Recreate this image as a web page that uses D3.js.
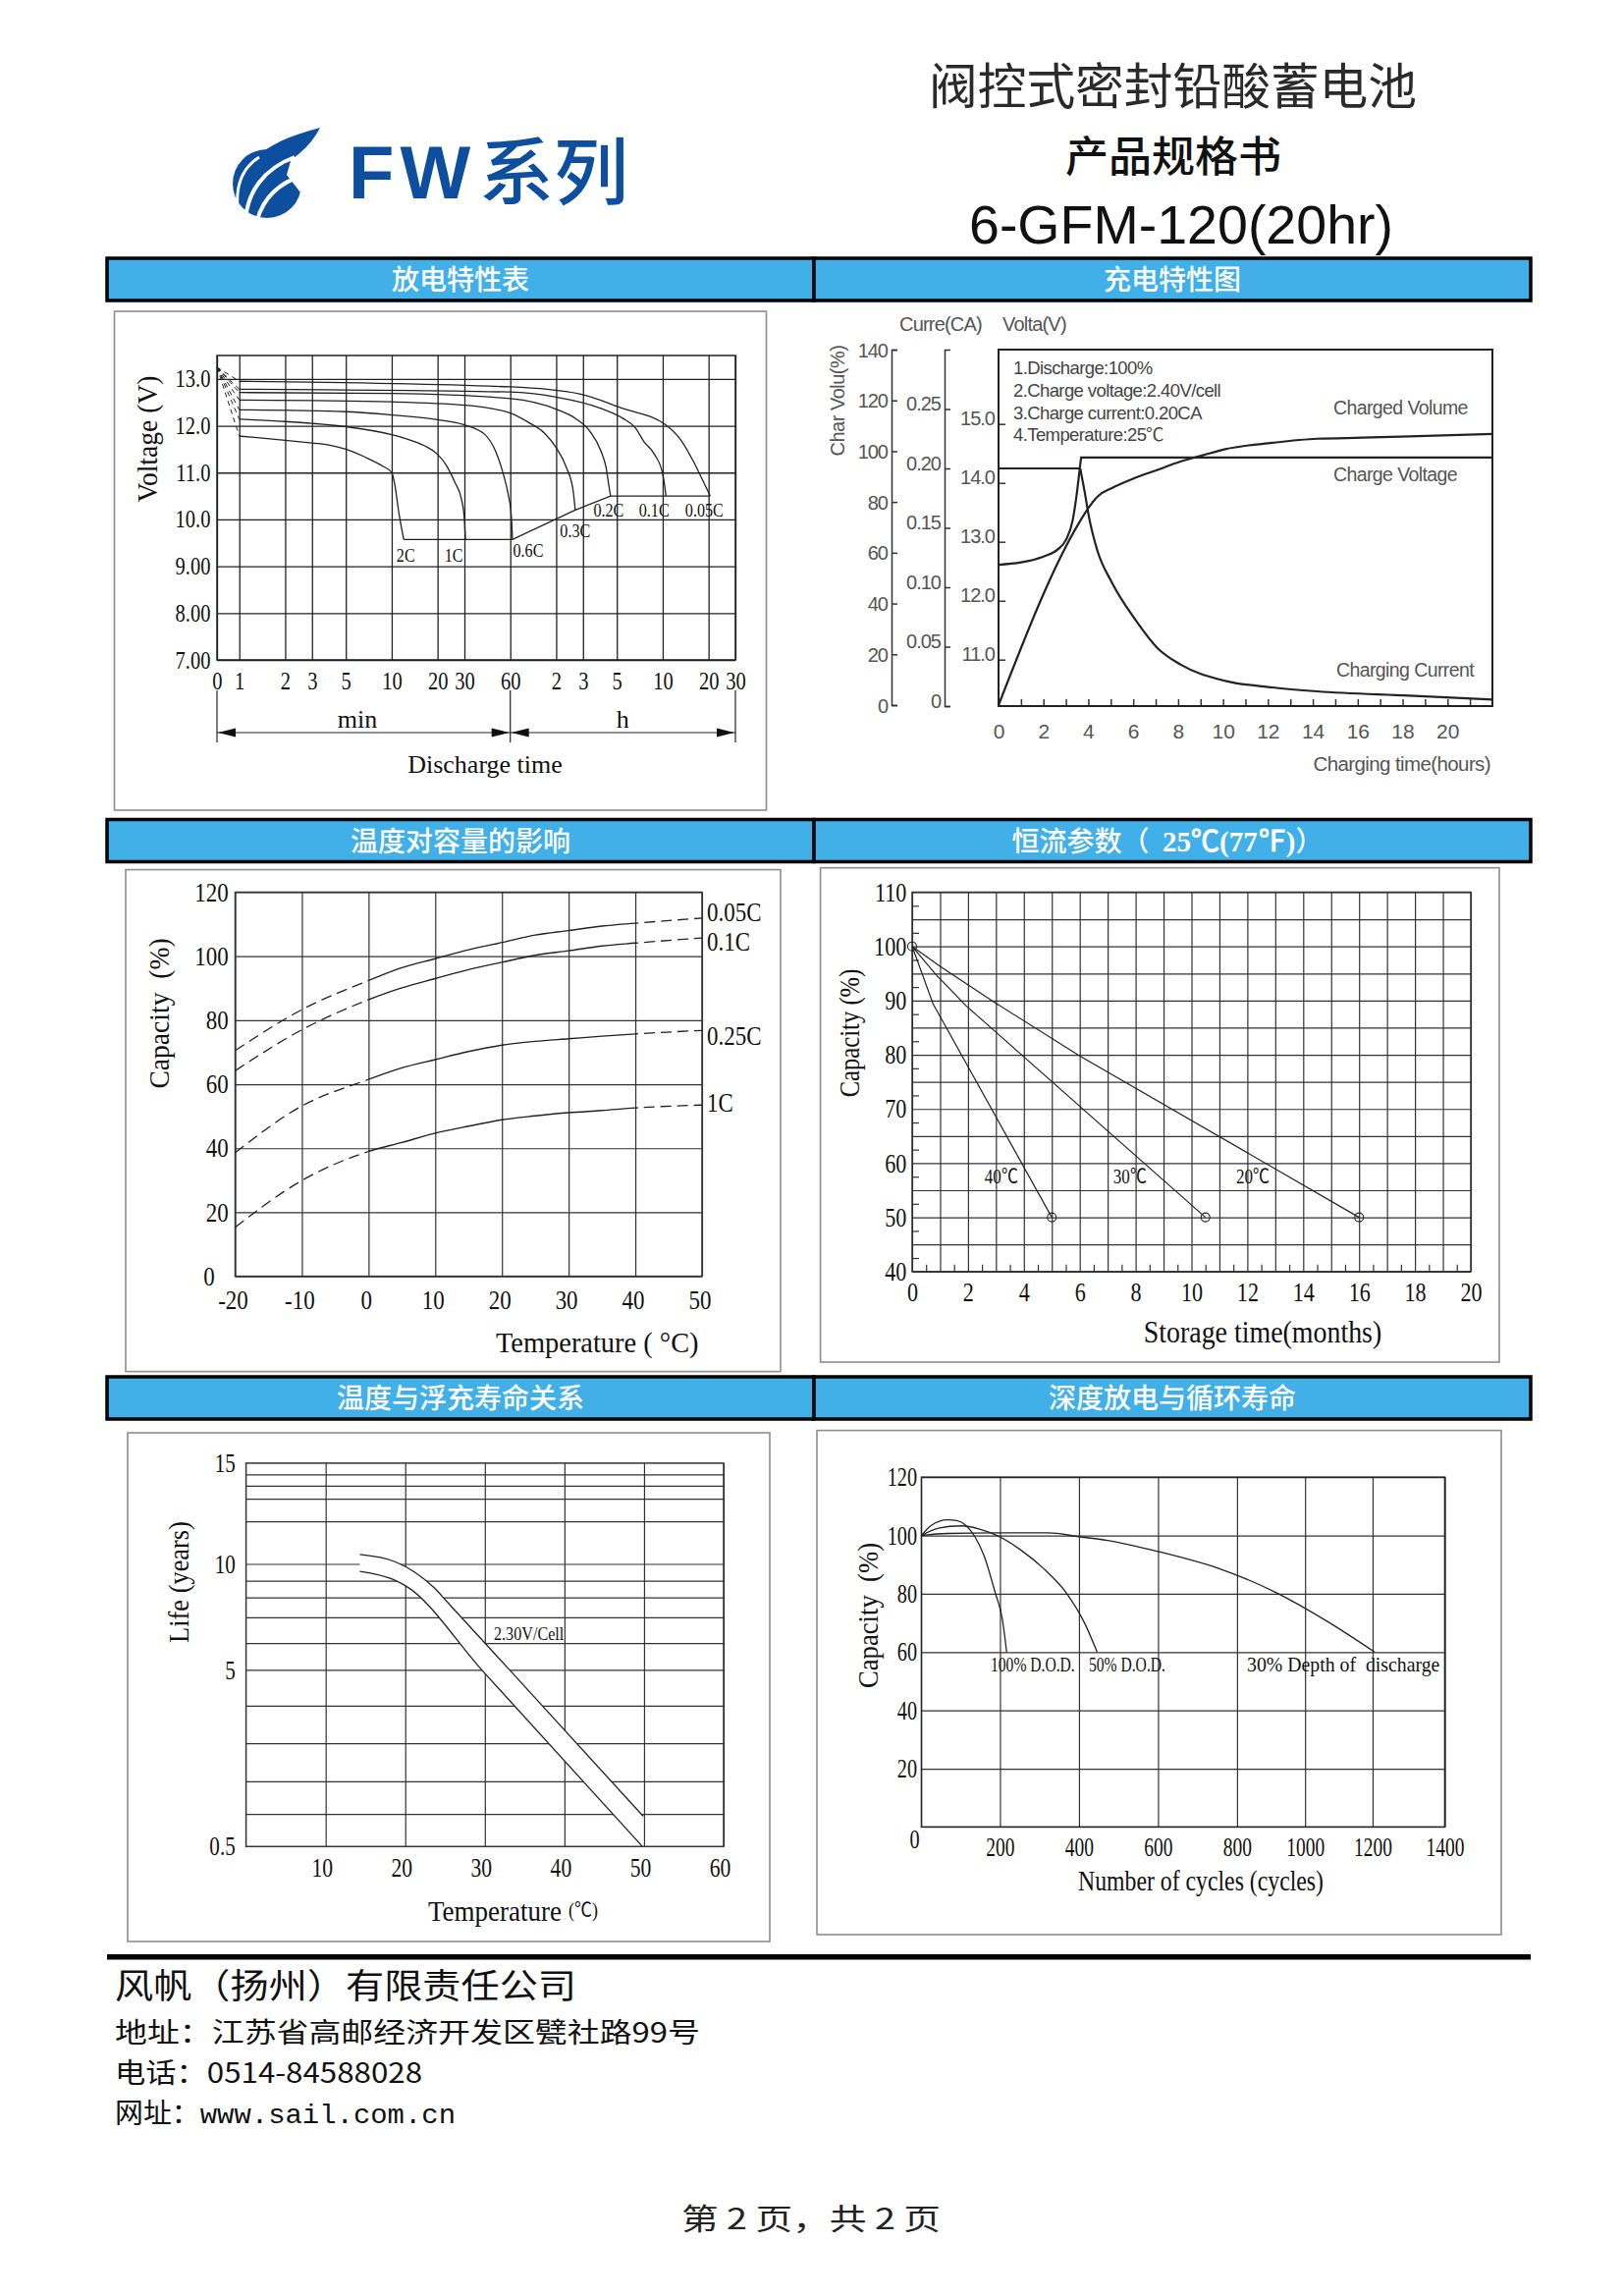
<!DOCTYPE html>
<html lang="zh-CN">
<head>
<meta charset="utf-8">
<title>6-GFM-120(20hr)</title>
<script src="https://cdn.jsdelivr.net/npm/d3@7/dist/d3.min.js"></script>
<style>
html,body{margin:0;padding:0;background:#fff;}
svg{display:block;}
</style>
</head>
<body>
<script>
// ================= DATA =================
// --- Discharge characteristics (minutes on a log axis, volts) ---
const dischargeTickMinutes = [0.714, 1, 2, 3, 5, 10, 20, 30, 60, 120, 180, 300, 600, 1200, 1800];
const dischargeTickLabels = ["0","1","2","3","5","10","20","30","60","2","3","5","10","20","30"];
const voltageTicks = [7, 8, 9, 10, 11, 12, 13];
const voltageTickLabels = ["7.00","8.00","9.00","10.0","11.0","12.0","13.0"];
const dischargeRates = ["2C","1C","0.6C","0.3C","0.2C","0.1C","0.05C"];
const dischargeStartVoltage = 13.25;
const discharge2C = [[1,11.78],[2,11.69],[3,11.63],[3.85,11.59],[5,11.50],[6.7,11.33],[8.7,11.14],[10,11.0],[10.4,10.8],[11.2,10.1],[12,9.57]];
const discharge1C = [[1,12.14],[2,12.09],[3,12.05],[5,11.98],[10,11.81],[12.8,11.71],[16.5,11.57],[20,11.39],[23,11.14],[26,10.79],[28.8,10.41],[30,9.99],[30.5,9.57]];
const discharge06C = [[1,12.34],[5,12.30],[10,12.23],[20,12.13],[30,12.02],[41,11.81],[48,11.46],[54,10.97],[58,10.55],[61,10.06],[62,9.57]];
const discharge03C = [[1,12.55],[10,12.51],[30,12.44],[60,12.27],[81,12.05],[100,11.85],[120,11.53],[140,11.11],[155,10.62],[160,10.20]];
const discharge02C = [[1,12.71],[10,12.69],[60,12.58],[123,12.34],[160,12.16],[200,11.88],[236,11.46],[255,11.11],[267,10.69],[273,10.5]];
const discharge01C = [[1,12.78],[60,12.72],[120,12.61],[236,12.37],[328,12.16],[398,11.95],[450,11.67],[530,11.39],[600,10.97],[620,10.69],[630,10.5]];
const discharge005C = [[1,12.95],[60,12.83],[171,12.68],[328,12.37],[627,12.02],[800,11.67],[950,11.25],[1100,10.83],[1230,10.5]];
const dischargeCutoff = [[12,9.57],[62,9.57],[160,10.2],[273,10.5],[1230,10.5]];

// --- Charging characteristics (hours; %, CA, V) ---
const chargeHourTicks = [0,2,4,6,8,10,12,14,16,18,20];
const chargePctTicks = [0,20,40,60,80,100,120,140];
const chargeCurrentTicks = [0,0.05,0.10,0.15,0.20,0.25];
const chargeCurrentLabels = ["0","0.05","0.10","0.15","0.20","0.25"];
const chargeVoltTicks = [11,12,13,14,15];
const chargeVolume = [[0,0],[3.6,72],[4.03,78],[4.43,82.3],[5.05,85.5],[6.06,89.4],[7.08,92.6],[8.1,95.9],[9.1,98.4],[10.1,100.8],[12.2,103.3],[14.2,104.9],[16.2,105.3],[18.3,105.8],[22,106.8]];
const chargeVoltageRise = [[0,12.61],[1,12.65],[2,12.75],[2.6,12.86],[3.0,13.03],[3.3,13.36],[3.5,13.86],[3.62,14.25]];
const chargeVoltageFloat = [[3.62,14.25],[3.68,14.43],[22,14.43]];
const chargeCurrentCC = [[0,0.20],[3.64,0.20]];
const chargeCurrentDecay = [[3.64,0.20],[3.83,0.181],[4.03,0.159],[4.4,0.131],[5.05,0.104],[6.06,0.0736],[7.08,0.0488],[8.1,0.035],[10.1,0.0212],[12.2,0.0157],[14.2,0.0124],[18.3,0.0088],[22,0.0055]];
const chargeNotes = ["1.Discharge:100%","2.Charge voltage:2.40V/cell","3.Charge current:0.20CA","4.Temperature:25\u2103"];

// --- Temperature vs capacity ---
const tempC = [-20,-10,0,5,10,15,20,25,30,35,40,50];
const tempTicks = [-20,-10,0,10,20,30,40,50];
const capTicks = [0,20,40,60,80,100,120];
const tempRates = ["0.05C","0.1C","0.25C","1C"];
const cap005C = [70.5,83.3,92.4,96.4,99.2,102,104.3,106.6,108,109.4,110.3,111.9];
const cap01C  = [64.2,77.0,86.4,90.1,93.0,95.8,98.1,100.3,101.7,103.2,104.1,105.7];
const cap025C = [38.6,53.2,61.5,65.1,67.7,70.2,72.2,73.4,74.2,75.0,75.7,76.8];
const cap1C   = [15.3,29.9,39.0,41.8,44.7,46.9,48.9,50.1,51.1,51.8,52.6,53.5];

// --- Storage (self discharge) ---
const storageMonthTicks = [0,2,4,6,8,10,12,14,16,18,20];
const storageCapTicks = [40,50,60,70,80,90,100,110];
const storageTemps = ["40\u2103","30\u2103","20\u2103"];
const storage40 = [[0,100],[0.75,89.4],[5,50]];
const storage30 = [[0,100],[0.85,94.8],[1.92,89.1],[10.5,50]];
const storage20 = [[0,100],[1,96.3],[3,89.5],[6,79.8],[16,50]];
const storageLabelMonth = [3.2, 7.8, 12.2];
const storageLabelCap = 57.5;

// --- Float life vs temperature ---
const lifeTempTicks = [10,20,30,40,50,60];
const lifeYearTicks = [0.5,5,10,15];
const lifeYearLabels = ["0.5","5","10","15"];
const lifeGridYears = [1.33,2.16,3.13,4.09,5,6.26,7.48,8.42,9.21,10,12.11,13.23,13.88,14.44];
const lifeUpper = [[14.3,10.47],[18.7,10.11],[21.2,9.61],[23.7,8.85],[25.3,8.19],[33.1,5.0],[49.9,1.27]];
const lifeLower = [[14.3,9.65],[18.5,9.26],[20.1,8.95],[29.6,5.0],[49.8,0.5]];

// --- Cycle life vs depth of discharge ---
const cycleTicks = [0,200,400,600,800,1000,1200,1400];
const cycleCapTicks = [20,40,60,80,100,120];
const cycleDOD100 = [[0,100],[25,103.5],[66,105.4],[90,105.1],[113,103.5],[136,99.6],[159,93.2],[188,80.3],[206,71.3],[217,60]];
const cycleDOD50 = [[0,100],[43,102.5],[101,103.3],[148,102.2],[194,99.9],[252,95.1],[310,88.7],[368,80.3],[414,70.0],[446,60]];
const cycleDOD30 = [[0,100],[66,100.7],[194,100.9],[322,100.9],[400,99.6],[472,98.3],[600,94.5],[762,88.3],[917,80.3],[1065,70.6],[1206,60]];
const cycleLabels = ["100% D.O.D.","50% D.O.D.","30% Depth of  discharge"];

// ================= DRAWING =================
const SERIF = "'Liberation Serif','Times New Roman',serif";
const SANS = "'Liberation Sans',Arial,Helvetica,sans-serif";
const CJK = "'Noto Sans CJK SC','Noto Sans CJK TC',sans-serif";

const svg = d3.select("body").append("svg").attr("width",1653).attr("height",2338);
svg.append("rect").attr("width",1653).attr("height",2338).attr("fill","#fff");
const defs = svg.append("defs");

function label(g, x, y, s, o = {}) {
  let tr = `translate(${x},${y})`;
  if (o.rot) tr += ` rotate(${o.rot})`;
  if (o.k) tr += ` scale(${o.k},1)`;
  const t = g.append("text").attr("transform", tr)
    .attr("font-family", o.ff || SERIF).attr("font-size", o.fs || 20)
    .attr("fill", o.fill || "#111").attr("text-anchor", o.anchor || "start")
    .attr("dy", o.dy !== undefined ? o.dy : "0.35em").style("white-space","pre").text(s);
  if (o.fw) t.attr("font-weight", o.fw);
  if (o.ls !== undefined) t.attr("letter-spacing", o.ls);
  if (o.len) t.attr("textLength", o.len).attr("lengthAdjust", "spacingAndGlyphs");
  return t;
}
function styleAxis(a, o = {}) {
  if (!o.keepDomain) a.select(".domain").remove();
  else a.select(".domain").attr("stroke", o.grid || "#333").attr("stroke-width", o.dw || 1.5);
  a.selectAll(".tick line").attr("stroke", o.grid || "#333").attr("stroke-width", o.gw || 1);
  a.selectAll(".tick text").attr("font-family", o.ff || SERIF).attr("font-size", o.fs || 24).attr("fill", o.fill || "#111");
  if (o.k) a.selectAll(".tick text").attr("transform", `scale(${o.k},1)`);
  if (o.dy !== undefined) a.selectAll(".tick text").attr("dy", o.dy);
  if (o.dx !== undefined) a.selectAll(".tick text").attr("dx", o.dx);
}
function frame(g, x, y, w, h) {
  g.append("rect").attr("x",x).attr("y",y).attr("width",w).attr("height",h)
    .attr("fill","none").attr("stroke","#8e8e8e").attr("stroke-width",1.6);
}

// ---------- Header ----------
const hdr = svg.append("g");
const logoBlue = "#0d4e9f";
hdr.append("circle").attr("cx",272).attr("cy",187).attr("r",35).attr("fill",logoBlue);
hdr.append("path").attr("d","M300,150 C312,160 312,182 306,196 L292,178 Z").attr("fill","#fff");
hdr.append("path").attr("d","M252,168 C270,148 296,138 326,130 C316,150 298,164 272,178 Z").attr("fill",logoBlue);
hdr.append("path").attr("d","M250,224 C252,196 268,172 300,160").attr("stroke","#fff").attr("stroke-width",4).attr("fill","none");
hdr.append("path").attr("d","M262,224 C268,202 284,186 310,178").attr("stroke","#fff").attr("stroke-width",4).attr("fill","none");
hdr.append("path").attr("d","M242,212 C240,188 248,170 264,160").attr("stroke","#fff").attr("stroke-width",3).attr("fill","none");
label(hdr, 355, 202, "FW", {ff: SANS, fs: 76, fw: 700, fill: logoBlue, dy: 0, ls: 6});
label(hdr, 488, 176, "系列", {ff: CJK, fs: 74, fw: 500, fill: logoBlue, len: 152});

label(hdr, 946, 88, "阀控式密封铅酸蓄电池", {ff: CJK, fs: 50, fill: "#2a2a2a", len: 497});
label(hdr, 1085, 160, "产品规格书", {ff: CJK, fs: 43, fw: 500, fill: "#111", len: 220});
label(hdr, 987, 248, "6-GFM-120(20hr)", {ff: SANS, fs: 56, fill: "#111", dy: 0, len: 432});

// ---------- Section bars ----------
const barRows = [263, 834.5, 1402];
const barTitles = [["放电特性表","充电特性图"],["温度对容量的影响",null],["温度与浮充寿命关系","深度放电与循环寿命"]];
barRows.forEach((y, r) => {
  [[109,829],[829,1559]].forEach(([x0,x1], c) => {
    svg.append("rect").attr("x",x0).attr("y",y).attr("width",x1-x0).attr("height",43)
      .attr("fill","#42b0e8").attr("stroke","#000").attr("stroke-width",3.5);
    const t = barTitles[r][c];
    if (t) label(svg, (x0+x1)/2, y+22.5, t, {ff: CJK, fs: 28, fw: 500, fill: "#fff", anchor: "middle"});
  });
});
{
  const t = svg.append("text").attr("x",1189).attr("y",857).attr("dy","0.35em").attr("text-anchor","middle")
    .attr("font-family",CJK).attr("font-size",28).attr("font-weight",500).attr("fill","#fff").style("white-space","pre");
  t.append("tspan").text("恒流参数（ ");
  t.append("tspan").attr("font-family",SERIF).attr("font-size",29).attr("font-weight",700).text(" 25\u2103(77\u2109)");
  t.append("tspan").text("）");
}

// ---------- Chart 1: discharge ----------
{
  const g = svg.append("g");
  frame(g, 116.5, 317, 664, 508);
  const L=221, R=749, T=362, B=672;
  const x = d3.scaleLog().domain([dischargeTickMinutes[0], dischargeTickMinutes[dischargeTickMinutes.length-1]]).range([L,R]);
  const y = d3.scaleLinear().domain([7,13.5]).range([B,T]);
  const ay = g.append("g").attr("transform",`translate(${L},0)`)
    .call(d3.axisLeft(y).tickValues(voltageTicks).tickFormat((d,i)=>voltageTickLabels[i]).tickSize(-(R-L)).tickPadding(8));
  styleAxis(ay, {fs: 25, k: 0.82, gw: 1.3, grid: "#222"});
  const ax = g.append("g").attr("transform",`translate(0,${B})`)
    .call(d3.axisBottom(x).tickValues(dischargeTickMinutes).tickFormat((d,i)=>dischargeTickLabels[i]).tickSize(-(B-T)).tickPadding(12));
  styleAxis(ax, {fs: 25, k: 0.82, gw: 1.3, grid: "#222"});
  g.append("rect").attr("x",L).attr("y",T).attr("width",R-L).attr("height",B-T).attr("fill","none").attr("stroke","#222").attr("stroke-width",1.5);

  const line = d3.line().x(d=>x(d[0])).y(d=>y(d[1])).curve(d3.curveMonotoneX);
  const straight = d3.line().x(d=>x(d[0])).y(d=>y(d[1]));
  const series = [discharge2C, discharge1C, discharge06C, discharge03C, discharge02C, discharge01C, discharge005C];
  const labelOff = [[2,16],[-12,16],[16,11],[0,21],[-2,14],[-12,14],[-6,14]];
  series.forEach((pts, i) => {
    g.append("path").attr("d", straight([[dischargeTickMinutes[0], dischargeStartVoltage], pts[0]]))
      .attr("fill","none").attr("stroke","#222").attr("stroke-width",1).attr("stroke-dasharray","5,4");
    g.append("path").attr("d", line(pts)).attr("fill","none").attr("stroke","#222").attr("stroke-width",1.3);
    const e = pts[pts.length-1];
    label(g, x(e[0]) + labelOff[i][0], y(e[1]) + labelOff[i][1], dischargeRates[i], {fs: 19, k: 0.85, anchor: "middle"});
  });
  g.append("path").attr("d", straight(dischargeCutoff)).attr("fill","none").attr("stroke","#222").attr("stroke-width",1.3);

  // time-unit arrows
  const xa = x(dischargeTickMinutes[0]), xm = x(60), xb = x(dischargeTickMinutes[dischargeTickMinutes.length-1]);
  [xa, xm, xb].forEach(v => g.append("line").attr("x1",v).attr("x2",v).attr("y1",703).attr("y2",756).attr("stroke","#222").attr("stroke-width",1.2));
  g.append("line").attr("x1",xa).attr("x2",xb).attr("y1",746).attr("y2",746).attr("stroke","#222").attr("stroke-width",1.2);
  const arrow = (tip, dir) => g.append("path")
    .attr("d", `M${tip},746 L${tip - dir*18},741.5 L${tip - dir*18},750.5 Z`).attr("fill","#111");
  arrow(xa+1, -1); arrow(xm-1, 1); arrow(xm+1, -1); arrow(xb-1, 1);
  label(g, 364, 732, "min", {fs: 26, anchor: "middle"});
  label(g, (xm+xb)/2, 732, "h", {fs: 26, anchor: "middle"});
  label(g, 494, 778, "Discharge time", {fs: 26, anchor: "middle"});
  label(g, 149, 447, "Voltage (V)", {fs: 30, k: 0.92, rot: -90, anchor: "middle"});
}

// ---------- Chart 2: charging ----------
{
  const g = svg.append("g");
  const L=1017, R=1520, T=356, B=719;
  const gray = "#555", ink = "#222";
  const x = d3.scaleLinear().domain([0,22]).range([L,R]);
  const yV = d3.scaleLinear().domain([11,15]).range([671.7,431.7]);
  const yI = d3.scaleLinear().domain([0,0.30]).range([B,T]);
  const yP = d3.scaleLinear().domain([0,140]).range([718,T]);

  const a1 = g.append("g").attr("transform","translate(908,0)")
    .call(d3.axisLeft(yP).tickValues(chargePctTicks).tickSizeInner(-6).tickSizeOuter(-6).tickPadding(4));
  styleAxis(a1, {keepDomain: true, ff: SANS, fs: 20, fill: gray, gw: 1.5, grid: "#333", dy: "0.35em"});
  a1.selectAll(".tick text").attr("letter-spacing",-1);
  const a2 = g.append("g").attr("transform","translate(962,0)")
    .call(d3.axisLeft(yI).tickValues(chargeCurrentTicks).tickFormat((d,i)=>chargeCurrentLabels[i]).tickSizeInner(-6).tickSizeOuter(-6).tickPadding(4));
  styleAxis(a2, {keepDomain: true, ff: SANS, fs: 20, fill: gray, gw: 1.5, grid: "#333", dy: "0.05em"});
  a2.selectAll(".tick text").attr("letter-spacing",-1);
  const a3 = g.append("g").attr("transform",`translate(${L},0)`)
    .call(d3.axisLeft(yV).tickValues(chargeVoltTicks).tickFormat(d3.format(".1f")).tickSizeInner(-7).tickPadding(4));
  styleAxis(a3, {ff: SANS, fs: 20, fill: gray, gw: 1.5, grid: "#333", dy: "0.05em"});
  a3.selectAll(".tick text").attr("letter-spacing",-1);
  const ax = g.append("g").attr("transform",`translate(0,${B})`)
    .call(d3.axisBottom(x).tickValues(d3.range(0,22,1)).tickFormat(d => chargeHourTicks.includes(d) ? d : "").tickSizeInner(-7).tickPadding(18));
  styleAxis(ax, {ff: SANS, fs: 21, fill: gray, gw: 1.5, grid: "#333"});
  g.append("rect").attr("x",L).attr("y",T).attr("width",R-L).attr("height",B-T).attr("fill","none").attr("stroke",ink).attr("stroke-width",2);

  const mono = (ys) => d3.line().x(d=>x(d[0])).y(d=>ys(d[1])).curve(d3.curveMonotoneX);
  const lin = (ys) => d3.line().x(d=>x(d[0])).y(d=>ys(d[1]));
  const stroke = p => p.attr("fill","none").attr("stroke",ink).attr("stroke-width",2.2);
  stroke(g.append("path").attr("d", mono(yP)(chargeVolume)));
  stroke(g.append("path").attr("d", mono(yV)(chargeVoltageRise)));
  stroke(g.append("path").attr("d", lin(yV)(chargeVoltageFloat)));
  stroke(g.append("path").attr("d", lin(yI)(chargeCurrentCC)));
  stroke(g.append("path").attr("d", mono(yI)(chargeCurrentDecay)));

  chargeNotes.forEach((t, i) => label(g, 1032, 375 + i*22.6, t, {ff: SANS, fs: 18.5, fill: "#444", ls: -0.6}));
  label(g, 1358, 415, "Charged Volume", {ff: SANS, fs: 19.5, fill: gray, ls: -0.6});
  label(g, 1358, 483, "Charge Voltage", {ff: SANS, fs: 19.5, fill: gray, ls: -0.6});
  label(g, 1361, 682, "Charging Current", {ff: SANS, fs: 19.5, fill: gray, ls: -0.6});
  label(g, 1518, 778, "Charging time(hours)", {ff: SANS, fs: 20.5, fill: gray, anchor: "end", ls: -0.6});
  label(g, 916, 330, "Curre(CA)", {ff: SANS, fs: 20, fill: gray, ls: -0.8});
  label(g, 1021, 330, "Volta(V)", {ff: SANS, fs: 20, fill: gray, ls: -0.8});
  label(g, 853, 408, "Char Volu(%)", {ff: SANS, fs: 20, fill: gray, rot: -90, anchor: "middle", ls: -0.5});
}

// ---------- Chart 3: temperature vs capacity ----------
{
  const g = svg.append("g");
  frame(g, 128, 885.6, 667, 511);
  const L=239.5, R=715, T=908.5, B=1299.6;
  const x = d3.scaleLinear().domain([-20,50]).range([L,R]);
  const y = d3.scaleLinear().domain([0,120]).range([B,T]);
  const ay = g.append("g").attr("transform",`translate(${L},0)`)
    .call(d3.axisLeft(y).tickValues(capTicks).tickSize(-(R-L)).tickPadding(8));
  styleAxis(ay, {fs: 27, k: 0.85, gw: 1.2, grid: "#333"});
  ay.selectAll(".tick text").filter(d => d === 0).attr("x", -8 - 14/0.85);
  const ax = g.append("g").attr("transform",`translate(0,${B})`)
    .call(d3.axisBottom(x).tickValues(tempTicks).tickSize(-(B-T)).tickPadding(14));
  styleAxis(ax, {fs: 27, k: 0.85, gw: 1.2, grid: "#333", dx: -3});
  ax.selectAll(".tick text").text(d => d < 0 ? "-" + Math.abs(d) : d);
  g.append("rect").attr("x",L).attr("y",T).attr("width",R-L).attr("height",B-T).attr("fill","none").attr("stroke","#333").attr("stroke-width",1.5);

  defs.append("clipPath").attr("id","tcSolid").append("rect")
    .attr("x",x(0)).attr("y",T-30).attr("width",x(40)-x(0)).attr("height",B-T+60);
  const cd = defs.append("clipPath").attr("id","tcDash");
  cd.append("rect").attr("x",L-10).attr("y",T-30).attr("width",x(0)-L+10).attr("height",B-T+60);
  cd.append("rect").attr("x",x(40)).attr("y",T-30).attr("width",R-x(40)+10).attr("height",B-T+60);

  const line = d3.line().x((d,i)=>x(tempC[i])).y(d=>y(d)).curve(d3.curveMonotoneX);
  [cap005C, cap01C, cap025C, cap1C].forEach((vals, i) => {
    g.append("path").attr("d", line(vals)).attr("clip-path","url(#tcSolid)")
      .attr("fill","none").attr("stroke","#222").attr("stroke-width",1.4);
    g.append("path").attr("d", line(vals)).attr("clip-path","url(#tcDash)")
      .attr("fill","none").attr("stroke","#222").attr("stroke-width",1.3).attr("stroke-dasharray","11,6");
    const off = [-6, 3, 5, -3][i];
    label(g, R + 5, y(vals[vals.length-1]) + off, tempRates[i], {fs: 27, k: 0.85});
  });
  label(g, 161, 1032, "Capacity  (%)", {fs: 30, k: 0.92, rot: -90, anchor: "middle"});
  label(g, 505, 1367, "Temperature ( \u00b0C)", {fs: 29, k: 0.98});
}

// ---------- Chart 4: storage ----------
{
  const g = svg.append("g");
  frame(g, 835.6, 883.7, 691.4, 503.3);
  const L=929, R=1498, T=908.5, B=1294.8;
  const x = d3.scaleLinear().domain([0,20]).range([L,R]);
  const y = d3.scaleLinear().domain([40,110]).range([B,T]);
  const gy = g.append("g").attr("transform",`translate(${L},0)`)
    .call(d3.axisLeft(y).tickValues(d3.range(40,111,5)).tickSize(-(R-L)).tickFormat(""));
  styleAxis(gy, {gw: 1.2, grid: "#333"});
  const gx = g.append("g").attr("transform",`translate(0,${B})`)
    .call(d3.axisBottom(x).tickValues(d3.range(0,21,1)).tickSize(-(B-T)).tickFormat(""));
  styleAxis(gx, {gw: 1.2, grid: "#333"});
  const my = g.append("g").attr("transform",`translate(${L},0)`)
    .call(d3.axisLeft(y).tickValues(d3.range(42.5,110,5)).tickSize(-7).tickFormat(""));
  styleAxis(my, {gw: 1.2, grid: "#333"});
  const mx = g.append("g").attr("transform",`translate(0,${B})`)
    .call(d3.axisBottom(x).tickValues(d3.range(0.5,20,1)).tickSize(-7).tickFormat(""));
  styleAxis(mx, {gw: 1.2, grid: "#333"});
  const ly = g.append("g").attr("transform",`translate(${L},0)`)
    .call(d3.axisLeft(y).tickValues(storageCapTicks).tickSize(0).tickPadding(7));
  styleAxis(ly, {fs: 27, k: 0.82});
  const lx = g.append("g").attr("transform",`translate(0,${B})`)
    .call(d3.axisBottom(x).tickValues(storageMonthTicks).tickSize(0).tickPadding(11));
  styleAxis(lx, {fs: 27, k: 0.82});
  g.append("rect").attr("x",L).attr("y",T).attr("width",R-L).attr("height",B-T).attr("fill","none").attr("stroke","#333").attr("stroke-width",1.5);

  const line = d3.line().x(d=>x(d[0])).y(d=>y(d[1]));
  [storage40, storage30, storage20].forEach((pts, i) => {
    g.append("path").attr("d", line(pts)).attr("fill","none").attr("stroke","#222").attr("stroke-width",1.2);
    const e = pts[pts.length-1];
    g.append("circle").attr("cx",x(e[0])).attr("cy",y(e[1])).attr("r",4.5).attr("fill","none").attr("stroke","#222").attr("stroke-width",1.1);
    label(g, x(storageLabelMonth[i]), y(storageLabelCap), storageTemps[i], {fs: 20, k: 0.85, anchor: "middle"});
  });
  g.append("circle").attr("cx",x(storage40[0][0])).attr("cy",y(storage40[0][1])).attr("r",4.5).attr("fill","none").attr("stroke","#222").attr("stroke-width",1.1);
  label(g, 865, 1052, "Capacity (%)", {fs: 29, k: 0.85, rot: -90, anchor: "middle"});
  label(g, 1286, 1356, "Storage time(months)", {fs: 31, k: 0.9, anchor: "middle"});
}

// ---------- Chart 5: float life ----------
{
  const g = svg.append("g");
  frame(g, 130, 1459, 654, 518);
  const L=250.6, R=737, T=1489.9, B=1880.3;
  const x = d3.scaleLinear().domain([0,60]).range([L,R]);
  const y = d3.scaleLinear().domain(lifeYearTicks).range([B,1700.4,1592.5,T]);
  const gy = g.append("g").attr("transform",`translate(${L},0)`)
    .call(d3.axisLeft(y).tickValues(lifeGridYears).tickSize(-(R-L)).tickFormat(""));
  styleAxis(gy, {gw: 1.2, grid: "#333"});
  const gx = g.append("g").attr("transform",`translate(0,${B})`)
    .call(d3.axisBottom(x).tickValues(lifeTempTicks).tickSize(-(B-T)).tickPadding(12));
  styleAxis(gx, {fs: 27, k: 0.8, gw: 1.2, grid: "#333", dx: -5});
  const ly = g.append("g").attr("transform",`translate(${L},0)`)
    .call(d3.axisLeft(y).tickValues(lifeYearTicks).tickFormat((d,i)=>lifeYearLabels[i]).tickSize(0).tickPadding(14));
  styleAxis(ly, {fs: 27, k: 0.78});
  g.append("rect").attr("x",L).attr("y",T).attr("width",R-L).attr("height",B-T).attr("fill","none").attr("stroke","#333").attr("stroke-width",1.5);

  const line = d3.line().x(d=>x(d[0])).y(d=>y(d[1])).curve(d3.curveMonotoneX);
  g.append("path").attr("d", line(lifeUpper) + "L" + line(lifeLower.slice().reverse()).slice(1) + "Z")
    .attr("fill","#fff").attr("stroke","none");
  [lifeUpper, lifeLower].forEach(pts => g.append("path").attr("d", line(pts))
    .attr("fill","none").attr("stroke","#222").attr("stroke-width",1.3));
  label(g, 503, 1663, "2.30V/Cell", {fs: 19, k: 0.85});
  label(g, 181, 1611, "Life (years)", {fs: 30, k: 0.88, rot: -90, anchor: "middle"});
  label(g, 436, 1945, "Temperature", {fs: 30, k: 0.9});
  label(g, 579, 1945, "(\u2103)", {fs: 20, k: 0.9});
}

// ---------- Chart 6: cycle life ----------
{
  const g = svg.append("g");
  frame(g, 832, 1456.6, 697, 513.4);
  const L=938.5, R=1471.5, T=1504.2, B=1860.4;
  const frac = [0, 0.150, 0.301, 0.452, 0.603, 0.733, 0.862, 1];
  const x = d3.scaleLinear().domain(cycleTicks).range(frac.map(f => L + f*(R-L)));
  const y = d3.scaleLinear().domain([0,120]).range([B,T]);
  const gy = g.append("g").attr("transform",`translate(${L},0)`)
    .call(d3.axisLeft(y).tickValues(cycleCapTicks).tickSize(-(R-L)).tickPadding(6));
  styleAxis(gy, {fs: 27, k: 0.75, gw: 1.2, grid: "#333"});
  const gx = g.append("g").attr("transform",`translate(0,${B})`)
    .call(d3.axisBottom(x).tickValues(cycleTicks.slice(1)).tickFormat(d3.format("d")).tickSize(-(B-T)).tickPadding(10));
  styleAxis(gx, {fs: 27, k: 0.72, gw: 1.2, grid: "#333"});
  g.append("rect").attr("x",L).attr("y",T).attr("width",R-L).attr("height",B-T).attr("fill","none").attr("stroke","#222").attr("stroke-width",1.6);
  label(g, x(0) - 7, y(0) + 12, "0", {fs: 27, k: 0.75, anchor: "middle"});

  const line = d3.line().x(d=>x(d[0])).y(d=>y(d[1])).curve(d3.curveMonotoneX);
  [cycleDOD100, cycleDOD50, cycleDOD30].forEach(pts => g.append("path").attr("d", line(pts))
    .attr("fill","none").attr("stroke","#222").attr("stroke-width",1.3));
  label(g, 1009, 1695, cycleLabels[0], {fs: 20, k: 0.78});
  label(g, 1109, 1695, cycleLabels[1], {fs: 20, k: 0.78});
  label(g, 1270, 1695, cycleLabels[2], {fs: 20, k: 0.99});
  label(g, 884, 1645, "Capacity  (%)", {fs: 29, k: 0.92, rot: -90, anchor: "middle"});
  label(g, 1223, 1915, "Number of cycles (cycles)", {fs: 29, k: 0.82, anchor: "middle"});
}

// ---------- Footer ----------
{
  const g = svg.append("g");
  g.append("rect").attr("x",109).attr("y",1990).attr("width",1450).attr("height",5.5).attr("fill","#000");
  label(g, 117, 2023, "风帆（扬州）有限责任公司", {ff: CJK, fs: 35, fill: "#111", len: 470});
  label(g, 117, 2070, "地址：江苏省高邮经济开发区甓社路99号", {ff: CJK, fs: 28, fill: "#111", len: 596});
  label(g, 117, 2111, "电话：0514-84588028", {ff: CJK, fs: 28, fill: "#111", len: 313});
  const t = g.append("text").attr("x",117).attr("y",2152).attr("dy","0.35em").attr("font-size",28).attr("fill","#111")
    .attr("textLength",347).attr("lengthAdjust","spacingAndGlyphs");
  t.append("tspan").attr("font-family",CJK).text("网址：");
  t.append("tspan").attr("font-family","'Liberation Mono','DejaVu Sans Mono',monospace").attr("font-size",28).text("www.sail.com.cn");
  label(g, 694, 2259, "第 2 页，共 2 页", {ff: CJK, fs: 30, fill: "#222", len: 264});
}
</script>
</body>
</html>
